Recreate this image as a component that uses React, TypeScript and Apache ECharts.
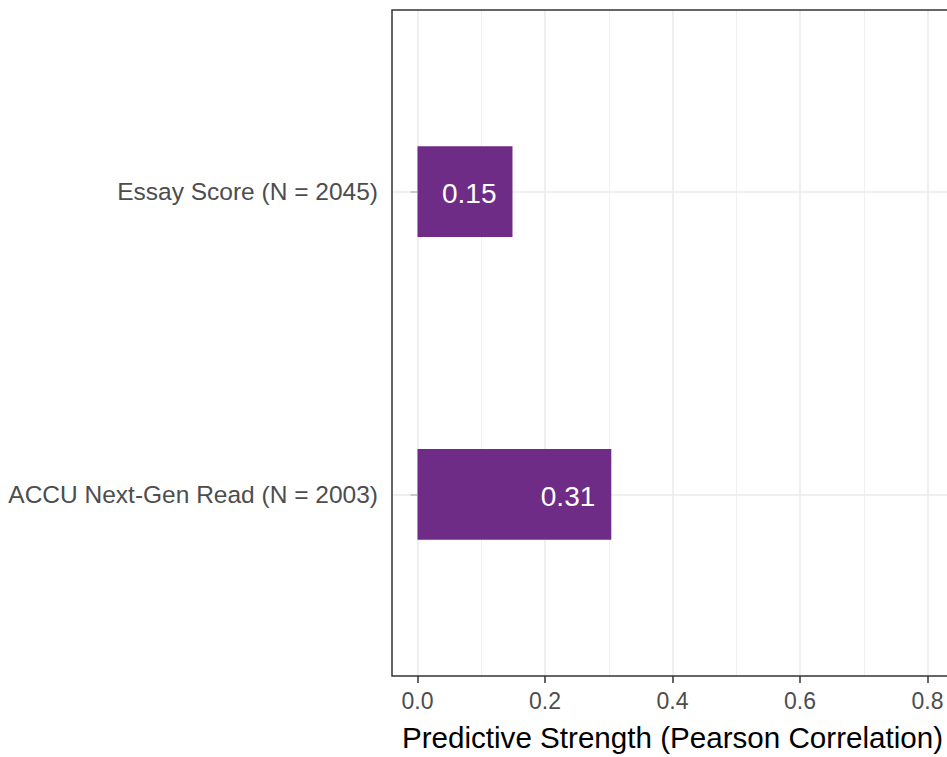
import React, { useEffect, useRef } from "react";
import * as echarts from "echarts";

const categories = ["ACCU Next-Gen Read (N = 2003)", "Essay Score (N = 2045)"];
const yPositions = [1, 2];
const values = [0.304, 0.149];
const valueLabels = ["0.31", "0.15"];
const xTicks = [0, 0.2, 0.4, 0.6, 0.8];
const xTickLabels = ["0.0", "0.2", "0.4", "0.6", "0.8"];
const xMinorGrid = [0.1, 0.3, 0.5, 0.7];
const axisTitle = "Predictive Strength (Pearson Correlation)";

const FONT = "'Liberation Sans', Arial, sans-serif";

export default function App() {
  const ref = useRef<HTMLDivElement>(null);
  useEffect(() => {
    const chart = echarts.init(ref.current!, null, { renderer: "svg" });
    const barData = values.map((v, i) => [v, yPositions[i], i]);
    const gridLines: any[] = [
      ...xMinorGrid.map((v) => ({ xAxis: v, lineStyle: { color: "#F0F0F0", width: 1, type: "solid" } })),
      ...xTicks.map((v) => ({ xAxis: v, lineStyle: { color: "#EBEBEB", width: 1.6, type: "solid" } })),
      ...yPositions.map((v) => ({ yAxis: v, lineStyle: { color: "#EBEBEB", width: 1.6, type: "solid" } })),
    ];
    chart.setOption({
      animation: false,
      grid: {
        left: 392,
        top: 10,
        width: 561,
        height: 669,
        show: true,
        borderColor: "#333333",
        borderWidth: 1.5,
        backgroundColor: "transparent",
        z: 4,
      },
      xAxis: {
        type: "value",
        min: -0.04,
        max: 0.84,
        axisLine: { show: false },
        splitLine: { show: false },
        axisTick: {
          show: true,
          customValues: xTicks,
          length: 7,
          lineStyle: { color: "#333333", width: 1.5 },
        },
        axisLabel: {
          customValues: xTicks,
          formatter: (v: number) => {
            const k = xTicks.findIndex((t) => Math.abs(t - v) < 1e-9);
            return k >= 0 ? xTickLabels[k] : "";
          },
          color: "#4D4D4D",
          fontSize: 23,
          fontFamily: FONT,
          margin: 13,
        },
        name: axisTitle,
        nameLocation: "middle",
        nameGap: 46,
        nameTextStyle: { color: "#000000", fontSize: 29.6, fontFamily: FONT },
      },
      yAxis: {
        type: "value",
        min: 0.4,
        max: 2.6,
        axisLine: { show: false },
        splitLine: { show: false },
        axisTick: {
          show: true,
          customValues: yPositions,
          length: 7,
          lineStyle: { color: "#333333", width: 1.5 },
        },
        axisLabel: {
          customValues: yPositions,
          formatter: (v: number) => {
            const k = yPositions.findIndex((t) => Math.abs(t - v) < 1e-9);
            return k >= 0 ? categories[k] : "";
          },
          color: "#4D4D4D",
          fontSize: 24.5,
          fontFamily: FONT,
          margin: 14,
        },
      },
      series: [
        {
          type: "line",
          data: [],
          z: 1,
          silent: true,
          markLine: {
            silent: true,
            symbol: "none",
            z: 1,
            label: { show: false },
            emphasis: { disabled: true },
            data: gridLines,
          },
        },
        {
          type: "custom",
          z: 3,
          data: barData,
          encode: { x: 0, y: 1 },
          renderItem: (params: any, api: any) => {
            const v = api.value(0);
            const y = api.value(1);
            const i = api.value(2);
            const p0 = api.coord([0, y + 0.15]);
            const p1 = api.coord([v, y - 0.15]);
            return {
              type: "group",
              children: [
                {
                  type: "rect",
                  shape: { x: p0[0], y: p0[1], width: p1[0] - p0[0], height: p1[1] - p0[1] },
                  style: { fill: "#6F2C87" },
                },
                {
                  type: "text",
                  x: p1[0] - 16,
                  y: (p0[1] + p1[1]) / 2 + 2,
                  style: {
                    text: valueLabels[i],
                    fill: "#FFFFFF",
                    fontSize: 28,
                    fontFamily: FONT,
                    align: "right",
                    verticalAlign: "middle",
                  },
                },
              ],
            };
          },
        },
      ],
    });
    return () => chart.dispose();
  }, []);
  return (
    <div style={{ position: "fixed", left: 0, top: 0, width: 947, height: 757, overflow: "hidden", background: "#fff" }}>
      <div ref={ref} style={{ width: 960, height: 757 }} />
    </div>
  );
}
